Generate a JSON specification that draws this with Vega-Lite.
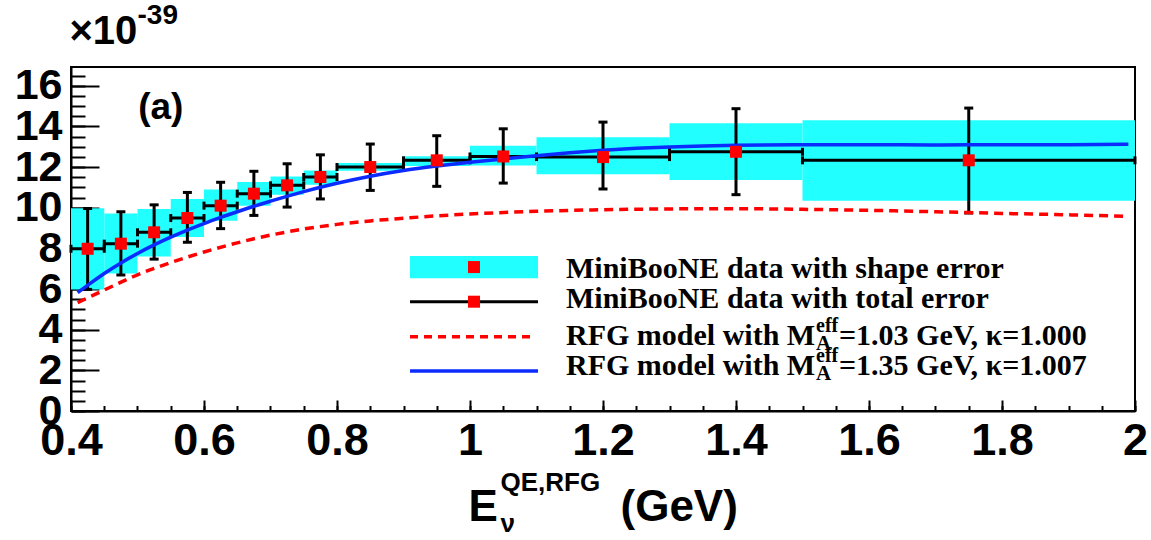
{
  "$schema": "https://vega.github.io/schema/vega-lite/v6.json",
  "width": 1064,
  "height": 344,
  "autosize": {"type": "none"},
  "padding": {"left": 71, "top": 67, "right": 16, "bottom": 129},
  "background": "white",
  "config": {
    "view": {"stroke": "black", "strokeWidth": 2},
    "axis": {
      "grid": false,
      "domainColor": "black",
      "domainWidth": 2,
      "tickColor": "black",
      "tickWidth": 2,
      "labelColor": "black",
      "titleColor": "black",
      "labelFont": "Liberation Sans",
      "labelFontWeight": "bold",
      "titleFont": "Liberation Sans",
      "titleFontWeight": "bold",
      "labelOverlap": false,
      "labelBound": false,
      "labelFlush": false,
      "titleAngle": 0,
      "titleAlign": "left",
      "titleBaseline": "alphabetic"
    }
  },
  "datasets": {
    "bins": [
      {"e": 0.425, "e_lo": 0.40, "e_hi": 0.45, "xs": 7.98, "tot_lo": 5.98, "tot_hi": 9.96, "sh_lo": 5.97, "sh_hi": 9.97},
      {"e": 0.475, "e_lo": 0.45, "e_hi": 0.50, "xs": 8.23, "tot_lo": 6.69, "tot_hi": 9.80, "sh_lo": 6.76, "sh_hi": 9.71},
      {"e": 0.525, "e_lo": 0.50, "e_hi": 0.55, "xs": 8.79, "tot_lo": 7.47, "tot_hi": 10.14, "sh_lo": 7.60, "sh_hi": 9.94},
      {"e": 0.575, "e_lo": 0.55, "e_hi": 0.60, "xs": 9.49, "tot_lo": 8.30, "tot_hi": 10.75, "sh_lo": 8.56, "sh_hi": 10.43},
      {"e": 0.625, "e_lo": 0.60, "e_hi": 0.65, "xs": 10.10, "tot_lo": 8.97, "tot_hi": 11.25, "sh_lo": 9.36, "sh_hi": 10.89},
      {"e": 0.675, "e_lo": 0.65, "e_hi": 0.70, "xs": 10.69, "tot_lo": 9.62, "tot_hi": 11.79, "sh_lo": 10.10, "sh_hi": 11.26},
      {"e": 0.725, "e_lo": 0.70, "e_hi": 0.75, "xs": 11.10, "tot_lo": 10.03, "tot_hi": 12.16, "sh_lo": 10.64, "sh_hi": 11.54},
      {"e": 0.775, "e_lo": 0.75, "e_hi": 0.80, "xs": 11.51, "tot_lo": 10.43, "tot_hi": 12.60, "sh_lo": 11.13, "sh_hi": 11.83},
      {"e": 0.85, "e_lo": 0.80, "e_hi": 0.90, "xs": 12.00, "tot_lo": 10.85, "tot_hi": 13.13, "sh_lo": 11.82, "sh_hi": 12.20},
      {"e": 0.95, "e_lo": 0.90, "e_hi": 1.00, "xs": 12.33, "tot_lo": 11.05, "tot_hi": 13.54, "sh_lo": 12.05, "sh_hi": 12.53},
      {"e": 1.05, "e_lo": 1.00, "e_hi": 1.10, "xs": 12.52, "tot_lo": 11.21, "tot_hi": 13.88, "sh_lo": 12.07, "sh_hi": 13.05},
      {"e": 1.20, "e_lo": 1.10, "e_hi": 1.30, "xs": 12.49, "tot_lo": 10.92, "tot_hi": 14.21, "sh_lo": 11.64, "sh_hi": 13.46},
      {"e": 1.40, "e_lo": 1.30, "e_hi": 1.50, "xs": 12.75, "tot_lo": 10.64, "tot_hi": 14.87, "sh_lo": 11.36, "sh_hi": 14.15},
      {"e": 1.75, "e_lo": 1.50, "e_hi": 2.00, "xs": 12.33, "tot_lo": 9.74, "tot_hi": 14.90, "sh_lo": 10.34, "sh_hi": 14.30}
    ],
    "rfg103": [
      {"e": 0.41, "xs": 5.33}, {"e": 0.45, "xs": 5.95}, {"e": 0.50, "xs": 6.70}, {"e": 0.55, "xs": 7.30},
      {"e": 0.60, "xs": 7.82}, {"e": 0.65, "xs": 8.27}, {"e": 0.70, "xs": 8.65}, {"e": 0.75, "xs": 8.95},
      {"e": 0.80, "xs": 9.18}, {"e": 0.85, "xs": 9.35}, {"e": 0.90, "xs": 9.48}, {"e": 0.95, "xs": 9.60},
      {"e": 1.00, "xs": 9.69}, {"e": 1.10, "xs": 9.82}, {"e": 1.20, "xs": 9.90}, {"e": 1.30, "xs": 9.94},
      {"e": 1.40, "xs": 9.95}, {"e": 1.50, "xs": 9.92}, {"e": 1.60, "xs": 9.87}, {"e": 1.70, "xs": 9.80},
      {"e": 1.80, "xs": 9.72}, {"e": 1.90, "xs": 9.65}, {"e": 1.99, "xs": 9.57}
    ],
    "rfg135": [
      {"e": 0.41, "xs": 5.82}, {"e": 0.43, "xs": 6.30}, {"e": 0.45, "xs": 6.76}, {"e": 0.475, "xs": 7.28},
      {"e": 0.50, "xs": 7.75}, {"e": 0.525, "xs": 8.17}, {"e": 0.55, "xs": 8.55}, {"e": 0.575, "xs": 8.90},
      {"e": 0.60, "xs": 9.22}, {"e": 0.625, "xs": 9.52}, {"e": 0.65, "xs": 9.80}, {"e": 0.675, "xs": 10.07},
      {"e": 0.70, "xs": 10.32}, {"e": 0.75, "xs": 10.79}, {"e": 0.80, "xs": 11.20}, {"e": 0.85, "xs": 11.55},
      {"e": 0.90, "xs": 11.83}, {"e": 0.95, "xs": 12.05}, {"e": 1.00, "xs": 12.24}, {"e": 1.05, "xs": 12.40},
      {"e": 1.10, "xs": 12.56}, {"e": 1.15, "xs": 12.70}, {"e": 1.20, "xs": 12.82}, {"e": 1.25, "xs": 12.92},
      {"e": 1.30, "xs": 12.99}, {"e": 1.35, "xs": 13.04}, {"e": 1.40, "xs": 13.07}, {"e": 1.50, "xs": 13.10},
      {"e": 1.60, "xs": 13.10}, {"e": 1.70, "xs": 13.08}, {"e": 1.80, "xs": 13.10}, {"e": 1.90, "xs": 13.10},
      {"e": 1.99, "xs": 13.12}
    ]
  },
  "resolve": {
    "scale": {"x": "shared", "y": "shared"},
    "axis": {"x": "independent", "y": "independent"}
  },
  "layer": [
    {
      "data": {"name": "bins"},
      "mark": {"type": "rect", "fill": "#22ffff"},
      "encoding": {
        "x": {
          "field": "e_lo", "type": "quantitative",
          "scale": {"domain": [0.4, 2], "nice": false, "zero": false},
          "axis": {
            "orient": "bottom",
            "values": [0.4, 0.6, 0.8, 1, 1.2, 1.4, 1.6, 1.8, 2],
            "format": "~g", "ticks": false, "domain": false,
            "labelFontSize": 45, "labelPadding": 7,
            "title": "E", "titleFontSize": 44, "titleX": 397, "titleY": 109
          }
        },
        "x2": {"field": "e_hi"},
        "y": {
          "field": "sh_lo", "type": "quantitative",
          "scale": {"domain": [0, 16.92], "nice": false},
          "axis": {
            "orient": "left",
            "values": [0, 2, 4, 6, 8, 10, 12, 14, 16],
            "ticks": false, "domain": false,
            "labelFontSize": 43, "labelPadding": 9,
            "title": "×10", "titleFontSize": 40, "titleX": -2, "titleY": -24
          }
        },
        "y2": {"field": "sh_hi"}
      }
    },
    {
      "data": {"name": "bins"},
      "mark": {"type": "rule", "color": "black", "strokeWidth": 3},
      "encoding": {
        "x": {
          "field": "e_lo", "type": "quantitative",
          "axis": {
            "orient": "bottom",
            "values": [0.4, 0.6, 0.8, 1, 1.2, 1.4, 1.6, 1.8, 2],
            "labels": false, "tickSize": -11,
            "title": "QE,RFG", "titleFontSize": 26, "titleX": 429, "titleY": 79
          }
        },
        "x2": {"field": "e_hi"},
        "y": {
          "field": "xs", "type": "quantitative",
          "axis": {
            "orient": "left",
            "values": [0, 2, 4, 6, 8, 10, 12, 14, 16],
            "labels": false, "tickSize": -28,
            "title": "-39", "titleFontSize": 28, "titleX": 66, "titleY": -44
          }
        }
      }
    },
    {
      "data": {"name": "bins"},
      "mark": {"type": "rule", "color": "black", "strokeWidth": 3},
      "encoding": {
        "x": {
          "field": "e", "type": "quantitative",
          "axis": {
            "orient": "bottom",
            "values": [0.4, 0.45, 0.5, 0.55, 0.6, 0.65, 0.7, 0.75, 0.8, 0.85, 0.9, 0.95, 1, 1.05, 1.1, 1.15, 1.2, 1.25, 1.3, 1.35, 1.4, 1.45, 1.5, 1.55, 1.6, 1.65, 1.7, 1.75, 1.8, 1.85, 1.9, 1.95, 2],
            "labels": false, "domain": false, "tickSize": -5.5,
            "title": "ν", "titleFontSize": 26, "titleX": 429, "titleY": 120
          }
        },
        "y": {
          "field": "tot_lo", "type": "quantitative",
          "axis": {
            "orient": "left",
            "values": [0, 0.5, 1, 1.5, 2, 2.5, 3, 3.5, 4, 4.5, 5, 5.5, 6, 6.5, 7, 7.5, 8, 8.5, 9, 9.5, 10, 10.5, 11, 11.5, 12, 12.5, 13, 13.5, 14, 14.5, 15, 15.5, 16, 16.5],
            "labels": false, "domain": false, "tickSize": -14, "title": null
          }
        },
        "y2": {"field": "tot_hi"}
      }
    },
    {
      "data": {"name": "bins"},
      "mark": {"type": "tick", "orient": "horizontal", "size": 9, "thickness": 3, "color": "black", "opacity": 1},
      "encoding": {
        "x": {
          "field": "e", "type": "quantitative",
          "axis": {
            "orient": "bottom", "labels": false, "ticks": false, "domain": false,
            "title": "(GeV)", "titleFontSize": 44, "titleX": 549, "titleY": 109
          }
        },
        "y": {"field": "tot_hi", "type": "quantitative", "axis": null}
      }
    },
    {
      "data": {"name": "bins"},
      "mark": {"type": "tick", "orient": "horizontal", "size": 9, "thickness": 3, "color": "black", "opacity": 1},
      "encoding": {
        "x": {"field": "e", "type": "quantitative", "axis": null},
        "y": {"field": "tot_lo", "type": "quantitative", "axis": null}
      }
    },
    {
      "data": {"name": "bins"},
      "mark": {"type": "tick", "orient": "vertical", "size": 8, "thickness": 3, "color": "black", "opacity": 1},
      "encoding": {
        "x": {"field": "e_lo", "type": "quantitative", "axis": null},
        "y": {"field": "xs", "type": "quantitative", "axis": null}
      }
    },
    {
      "data": {"name": "bins"},
      "mark": {"type": "tick", "orient": "vertical", "size": 8, "thickness": 3, "color": "black", "opacity": 1},
      "encoding": {
        "x": {"field": "e_hi", "type": "quantitative", "axis": null},
        "y": {"field": "xs", "type": "quantitative", "axis": null}
      }
    },
    {
      "data": {"name": "rfg103"},
      "mark": {"type": "line", "color": "#ff0000", "strokeWidth": 3.5, "strokeDash": [9, 6], "interpolate": "monotone"},
      "encoding": {
        "x": {"field": "e", "type": "quantitative", "axis": null},
        "y": {"field": "xs", "type": "quantitative", "axis": null}
      }
    },
    {
      "data": {"name": "rfg135"},
      "mark": {"type": "line", "color": "#0b2bff", "strokeWidth": 3.5, "interpolate": "monotone"},
      "encoding": {
        "x": {"field": "e", "type": "quantitative", "axis": null},
        "y": {"field": "xs", "type": "quantitative", "axis": null}
      }
    },
    {
      "data": {"name": "bins"},
      "mark": {"type": "point", "shape": "square", "size": 144, "filled": true, "color": "#ff0000", "opacity": 1},
      "encoding": {
        "x": {"field": "e", "type": "quantitative", "axis": null},
        "y": {"field": "xs", "type": "quantitative", "axis": null}
      }
    },
    {
      "data": {"values": [{}]},
      "mark": {"type": "text", "text": "(a)", "font": "Liberation Sans", "fontWeight": "bold", "fontSize": 37, "align": "left", "baseline": "alphabetic", "color": "black"},
      "encoding": {
        "x": {"datum": 0.501, "type": "quantitative", "axis": null},
        "y": {"datum": 14.35, "type": "quantitative", "axis": null}
      }
    },
    {
      "data": {"values": [{}]},
      "mark": {"type": "rect", "fill": "#22ffff"},
      "encoding": {
        "x": {"datum": 0.9098, "type": "quantitative", "axis": null},
        "x2": {"datum": 1.1023},
        "y": {"datum": 7.62, "type": "quantitative", "axis": null},
        "y2": {"datum": 6.53}
      }
    },
    {
      "data": {"values": [{}]},
      "mark": {"type": "rule", "color": "black", "strokeWidth": 3},
      "encoding": {
        "x": {"datum": 0.9098, "type": "quantitative", "axis": null},
        "x2": {"datum": 1.1023},
        "y": {"datum": 5.376, "type": "quantitative", "axis": null}
      }
    },
    {
      "data": {"values": [{}]},
      "mark": {"type": "rule", "color": "#ff0000", "strokeWidth": 3.5, "strokeDash": [8, 6]},
      "encoding": {
        "x": {"datum": 0.9098, "type": "quantitative", "axis": null},
        "x2": {"datum": 1.0947},
        "y": {"datum": 3.656, "type": "quantitative", "axis": null}
      }
    },
    {
      "data": {"values": [{}]},
      "mark": {"type": "rule", "color": "#0b2bff", "strokeWidth": 3.5},
      "encoding": {
        "x": {"datum": 0.9098, "type": "quantitative", "axis": null},
        "x2": {"datum": 1.1023},
        "y": {"datum": 1.97, "type": "quantitative", "axis": null}
      }
    },
    {
      "data": {"values": [{}]},
      "mark": {"type": "point", "shape": "square", "size": 144, "filled": true, "color": "#ff0000", "opacity": 1},
      "encoding": {
        "x": {"datum": 1.006, "type": "quantitative", "axis": null},
        "y": {"datum": 7.08, "type": "quantitative", "axis": null}
      }
    },
    {
      "data": {"values": [{}]},
      "mark": {"type": "point", "shape": "square", "size": 144, "filled": true, "color": "#ff0000", "opacity": 1},
      "encoding": {
        "x": {"datum": 1.006, "type": "quantitative", "axis": null},
        "y": {"datum": 5.376, "type": "quantitative", "axis": null}
      }
    },
    {
      "data": {"values": [{}]},
      "mark": {"type": "text", "text": ["MiniBooNE data with shape error", "MiniBooNE data with total error"], "lineHeight": 30, "font": "Liberation Serif", "fontWeight": "bold", "fontSize": 30, "align": "left", "baseline": "alphabetic", "color": "black"},
      "encoding": {
        "x": {"datum": 1.1444, "type": "quantitative", "axis": null},
        "y": {"datum": 6.527, "type": "quantitative", "axis": null}
      }
    },
    {
      "data": {"values": [{}]},
      "mark": {"type": "text", "text": ["RFG model with M", "RFG model with M"], "lineHeight": 30, "font": "Liberation Serif", "fontWeight": "bold", "fontSize": 30, "align": "left", "baseline": "alphabetic", "color": "black"},
      "encoding": {
        "x": {"datum": 1.1444, "type": "quantitative", "axis": null},
        "y": {"datum": 3.246, "type": "quantitative", "axis": null}
      }
    },
    {
      "data": {"values": [{}]},
      "mark": {"type": "text", "text": ["eff", "eff"], "lineHeight": 30, "font": "Liberation Serif", "fontWeight": "bold", "fontSize": 20, "align": "left", "baseline": "alphabetic", "color": "black"},
      "encoding": {
        "x": {"datum": 1.5203, "type": "quantitative", "axis": null},
        "y": {"datum": 3.886, "type": "quantitative", "axis": null}
      }
    },
    {
      "data": {"values": [{}]},
      "mark": {"type": "text", "text": ["A", "A"], "lineHeight": 30, "font": "Liberation Serif", "fontWeight": "bold", "fontSize": 21, "align": "left", "baseline": "alphabetic", "color": "black"},
      "encoding": {
        "x": {"datum": 1.5203, "type": "quantitative", "axis": null},
        "y": {"datum": 3.0, "type": "quantitative", "axis": null}
      }
    },
    {
      "data": {"values": [{}]},
      "mark": {"type": "text", "text": ["=1.03 GeV, κ=1.000", "=1.35 GeV, κ=1.007"], "lineHeight": 30, "font": "Liberation Serif", "fontWeight": "bold", "fontSize": 30, "align": "left", "baseline": "alphabetic", "color": "black"},
      "encoding": {
        "x": {"datum": 1.5549, "type": "quantitative", "axis": null},
        "y": {"datum": 3.246, "type": "quantitative", "axis": null}
      }
    }
  ]
}
